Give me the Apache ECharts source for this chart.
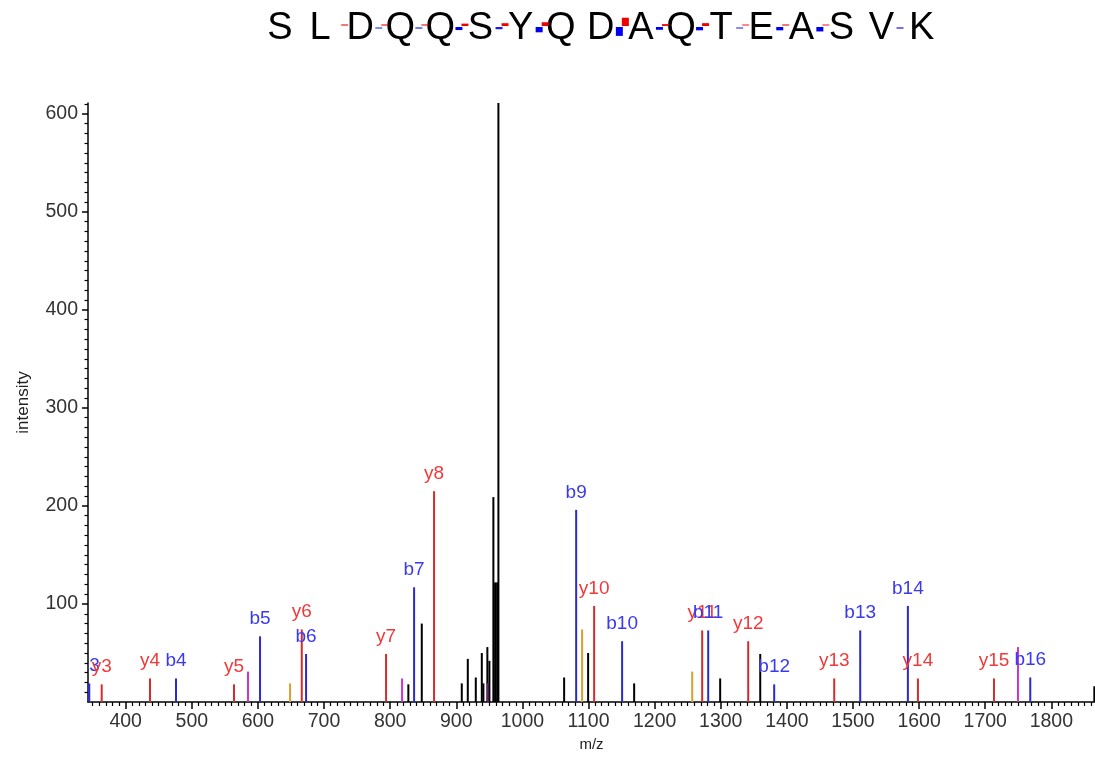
<!DOCTYPE html>
<html>
<head>
<meta charset="utf-8">
<script src="https://cdn.jsdelivr.net/npm/echarts@6/dist/echarts.min.js"></script>
<style>html,body{margin:0;padding:0;background:#fff}#c{width:1095px;height:757px}</style>
</head>
<body>
<div id="c"></div>
<script>
// ---------- data ----------
const sequence = ['S','L','D','Q','Q','S','Y','Q','D','A','Q','T','E','A','S','V','K'];

// [m/z, intensity, label]
const bIons = [[344.9,19,'b3'],[476.1,24,'b4'],[603.2,67,'b5'],[672.8,49,'b6'],[836.2,117,'b7'],
  [1081.3,196,'b9'],[1150.8,62,'b10'],[1281.0,73,'b11'],[1380.8,18,'b12'],[1510.9,73,'b13'],
  [1583.0,98,'b14'],[1768.1,25,'b16']];
const yIons = [[363.7,18,'y3'],[436.8,24,'y4'],[563.8,18,'y5'],[666.3,74,'y6'],[793.8,49,'y7'],
  [866.4,215,'y8'],[1108.5,98,'y10'],[1271.9,73,'y11'],[1341.5,62,'y12'],[1471.6,24,'y13'],
  [1598.2,24,'y14'],[1713.2,24,'y15']];
// [m/z, intensity]
const otherIons = [[585.0,31],[818.0,24],[948.6,19],[1749.5,56]];
const lossIons = [[648.6,19],[1090.3,74],[1256.8,31]];
const unmatched = [[827.5,18],[847.8,80],[908.3,19],[917.4,44],[929.5,25],[938.6,50],[941.0,19],
  [947.0,56],[950.1,42],[956.1,209],[958.7,122],[961.7,122],[963.7,611],[1063.1,25],[1099.4,50],
  [1169.0,19],[1299.1,24],[1359.7,49],[1865.0,16]];

const xTickValues = [400,500,600,700,800,900,1000,1100,1200,1300,1400,1500,1600,1700,1800];
const yTickValues = [100,200,300,400,500,600];

// ---------- build ----------
const COLORS = {
  b: {line:'#2a2ad2', label:'#3a3af0'},
  y: {line:'#d42c2c', label:'#f03a3a'},
  o: {line:'#cc33cc'},
  l: {line:'#d6a030'},
  n: {line:'#000000'}
};
const FONT = '"Liberation Sans", Arial, sans-serif';
const peaks = [];
bIons.forEach(d => peaks.push({mz:d[0], v:d[1], label:d[2], t:'b'}));
yIons.forEach(d => peaks.push({mz:d[0], v:d[1], label:d[2], t:'y'}));
otherIons.forEach(d => peaks.push({mz:d[0], v:d[1], t:'o'}));
lossIons.forEach(d => peaks.push({mz:d[0], v:d[1], t:'l'}));
unmatched.forEach(d => peaks.push({mz:d[0], v:d[1], t:'n'}));
peaks.sort((a,b) => a.mz - b.mz);

const xMin = 343, xMax = 1866, yMax = 611;
const minorX = []; for (let v = 350; v < xMax; v += 10) if (v % 100) minorX.push(v);
const minorY = []; for (let v = 10; v < yMax; v += 10) if (v % 100) minorY.push(v);

// sequence header with fragment markers
const n = sequence.length;
const seqX0 = 280, seqStep = 40.1, seqY = 29;
const siteB = new Array(n).fill(0), siteY = new Array(n).fill(0);
bIons.forEach(d => { const k = parseInt(d[2].slice(1)); siteB[k] = Math.max(siteB[k], d[1]); });
yIons.forEach(d => { const k = n - parseInt(d[2].slice(1)); siteY[k] = Math.max(siteY[k], d[1]); });
const header = [];
sequence.forEach((ch, i) => {
  header.push({type:'text', x: seqX0 + seqStep*i, y: seqY,
    style:{text: ch, fill:'#000', font:'38px ' + FONT, align:'center', verticalAlign:'middle'}});
});
for (let k = 1; k < n; k++) {
  const cx = seqX0 + seqStep*(k-1) + seqStep/2;
  if (siteB[k] > 0) {
    const h = Math.max(2, siteB[k]/22);
    header.push({type:'rect', shape:{x: cx-5, y: seqY-2, width:7, height:h},
      style:{fill:'#0000ee', opacity: Math.min(1, 0.2 + siteB[k]/70)}});
  }
  if (siteY[k] > 0) {
    const h = Math.max(2, siteY[k]/26);
    header.push({type:'rect', shape:{x: cx+1, y: seqY-3-h, width:7, height:h},
      style:{fill:'#ee0000', opacity: Math.min(1, 0.2 + siteY[k]/70)}});
  }
}

const chart = echarts.init(document.getElementById('c'), null, {renderer:'canvas'});
const tickFont = {fontSize:19.5, color:'#333', fontFamily:FONT, formatter: v => String(v)};
chart.setOption({
  animation:false,
  backgroundColor:'#fff',
  graphic: header,
  grid:{left:88, right:0, top:103, height:600, containLabel:false},
  xAxis:[{
    type:'value', min:xMin, max:xMax, position:'bottom',
    name:'m/z', nameLocation:'middle', nameGap:35,
    nameTextStyle:{fontSize:15, color:'#222', fontFamily:FONT},
    axisLine:{show:true, onZero:false, lineStyle:{color:'#000', width:1.5}},
    axisTick:{show:true, customValues:xTickValues, length:7, lineStyle:{color:'#000', width:1.5}},
    axisLabel:Object.assign({customValues:xTickValues, margin:10}, tickFont),
    splitLine:{show:false}
  },{
    type:'value', min:xMin, max:xMax, position:'bottom',
    axisLine:{show:false},
    axisTick:{show:true, customValues:minorX, length:4, lineStyle:{color:'#000', width:1.2}},
    axisLabel:{show:false}, splitLine:{show:false}
  }],
  yAxis:[{
    type:'value', min:0, max:yMax, position:'left',
    name:'intensity', nameLocation:'middle', nameGap:56, nameRotate:90,
    nameTextStyle:{fontSize:17, color:'#222', fontFamily:FONT},
    axisLine:{show:true, onZero:false, lineStyle:{color:'#000', width:1.5}},
    axisTick:{show:true, customValues:yTickValues, length:6, lineStyle:{color:'#000', width:1.5}},
    axisLabel:Object.assign({customValues:yTickValues, margin:10}, tickFont),
    splitLine:{show:false}
  },{
    type:'value', min:0, max:yMax, position:'left',
    axisLine:{show:false},
    axisTick:{show:true, customValues:minorY, length:3.5, lineStyle:{color:'#000', width:1.2}},
    axisLabel:{show:false}, splitLine:{show:false}
  }],
  series:[{
    type:'custom',
    clip:true,
    xAxisIndex:0, yAxisIndex:0,
    data: peaks.map(p => [p.mz, p.v]),
    renderItem(params, api) {
      const p = peaks[params.dataIndex];
      const p0 = api.coord([api.value(0), 0]);
      const p1 = api.coord([api.value(0), api.value(1)]);
      const c = COLORS[p.t];
      const children = [{type:'line', shape:{x1:p0[0], y1:p0[1], x2:p1[0], y2:p1[1]},
        style:{stroke:c.line, lineWidth:2}}];
      if (p.label) {
        children.push({type:'text', x:p1[0], y:p1[1]-8,
          style:{text:p.label, fill:c.label, font:'19px ' + FONT,
                 align:'center', verticalAlign:'bottom'}});
      }
      return {type:'group', children};
    }
  }]
});
</script>
</body>
</html>
